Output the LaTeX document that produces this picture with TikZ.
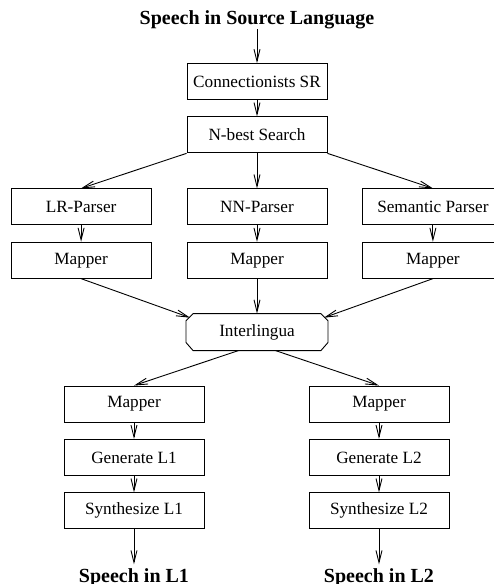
\documentclass[tikz,border=0pt]{standalone}
\usepackage{fontspec}
\setmainfont{Liberation Serif}
\usetikzlibrary{arrows.meta, positioning}
\tikzstyle{line} = [draw, -{Straight Barb[length=12pt,width=6pt]}, line width=0.9pt]
\tikzstyle{block} = [rectangle, draw, line width=0.9pt, minimum width=140pt,
  minimum height=36pt, inner sep=0pt, font=\fontsize{17.2}{20}\selectfont]
\tikzstyle{ilblock} = [block, draw=none, minimum width=141pt]
\tikzstyle{speech} = [inner sep=0pt, font=\fontsize{20}{24}\selectfont\bfseries]

\begin{document}
\begin{tikzpicture}
    \useasboundingbox (-257pt,81.5pt) rectangle (237pt,-502.5pt);

    \node [block] (csr) at (0,0) {Connectionists SR};
    \node [speech, above=34pt of csr] (source) {Speech in Source Language};
    \node [block, below=16.5pt of csr] (nbest) {N-best Search};

    \node [block, below=35pt of nbest] (nnparser) {NN-Parser};
    \node [block, left=35pt of nnparser] (lrparser) {LR-Parser};
    \node [block, right=35pt of nnparser] (semparser) {Semantic Parser};
    \node [block, below=16.5pt of lrparser] (lrmap) {Mapper};
    \node [block, below=16.5pt of nnparser] (nnmap) {Mapper};
    \node [block, below=16.5pt of semparser] (semmap) {Mapper};

    \node [ilblock, below=35pt of nnmap] (inter) {Interlingua};
    % cut corners of the interlingua box
    \draw [line width=0.9pt] ([xshift=7pt]inter.north west) -- ([xshift=-7pt]inter.north east)
      -- ([yshift=-7pt]inter.north east) -- ([yshift=8pt]inter.south east)
      -- ([xshift=-7pt]inter.south east) -- ([xshift=7pt]inter.south west)
      -- ([yshift=8pt]inter.south west) -- ([yshift=-7pt]inter.north west) -- cycle;

    \node [block, below=35pt of inter, xshift=-123pt] (mapa) {Mapper};
    \node [block, below=16.5pt of mapa] (gena) {Generate L1};
    \node [block, below=16.5pt of gena] (syna) {Synthesize L1};
    \node [speech, below=39pt of syna] (outa) {Speech in L1};

    \node [block, below=35pt of inter, xshift=122pt] (mapb) {Mapper};
    \node [block, below=16.5pt of mapb] (genb) {Generate L2};
    \node [block, below=16.5pt of genb] (synb) {Synthesize L2};
    \node [speech, below=39pt of synb] (outb) {Speech in L2};

    \path [line] (source) -- (csr);
    \path [line] (csr) -- (nbest);
    \path [line] (nbest.south west) -- (lrparser.north);
    \path [line] (nbest) -- (nnparser);
    \path [line] (nbest.south east) -- (semparser.north);
    \path [line] (lrparser) -- (lrmap);
    \path [line] (nnparser) -- (nnmap);
    \path [line] (semparser) -- (semmap);
    \path [line] (lrmap.south) -- ([xshift=4pt,yshift=-4pt]inter.north west);
    \path [line] (nnmap) -- (inter);
    \path [line] (semmap.south) -- ([xshift=-4pt,yshift=-4pt]inter.north east);
    \path [line] (inter.225) -- (mapa.north);
    \path [line] (inter.-45) -- (mapb.north);
    \path [line] (mapa) -- (gena);
    \path [line] (gena) -- (syna);
    \path [line, shorten >=4pt] (syna) -- (outa);
    \path [line] (mapb) -- (genb);
    \path [line] (genb) -- (synb);
    \path [line, shorten >=4pt] (synb) -- (outb);

\end{tikzpicture}
\end{document}
